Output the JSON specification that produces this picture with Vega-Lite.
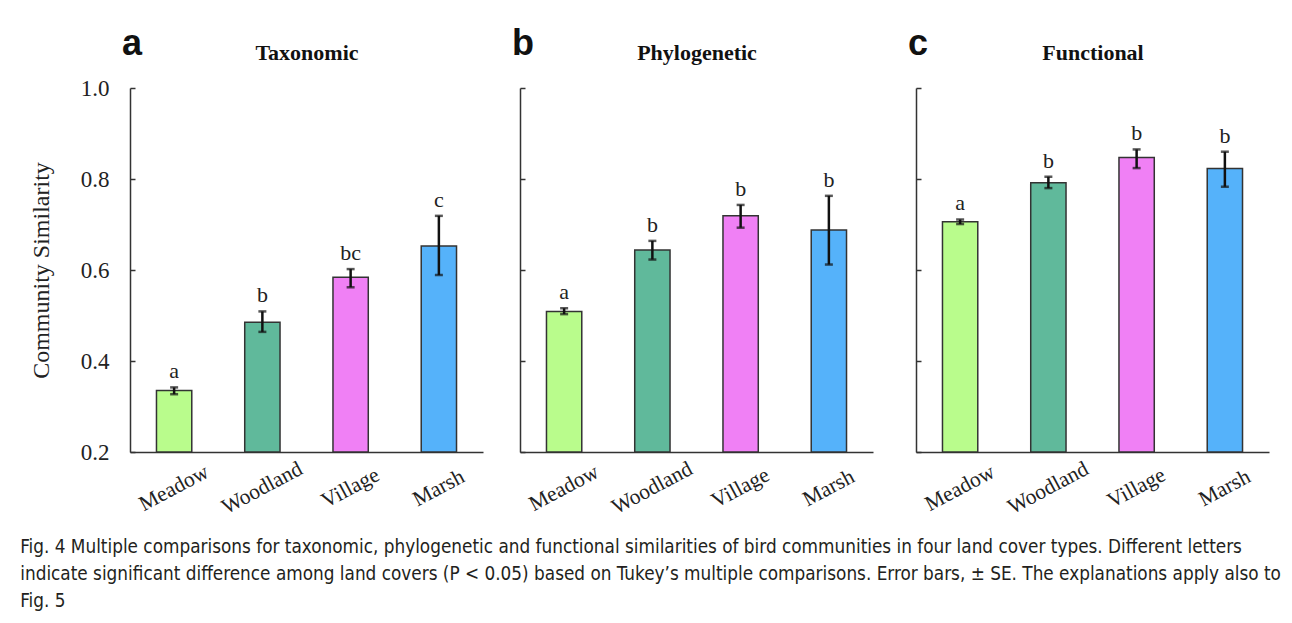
{
  "$schema": "https://vega.github.io/schema/vega-lite/v6.json",
  "padding": {"left": 20, "top": 26, "right": 5, "bottom": 5},
  "background": "white",
  "data": {"values": [
    {"panel": "a", "cover": "Meadow", "mean": 0.335, "lo": 0.327, "hi": 0.342, "letter": "a"},
    {"panel": "a", "cover": "Woodland", "mean": 0.485, "lo": 0.464, "hi": 0.509, "letter": "b"},
    {"panel": "a", "cover": "Village", "mean": 0.584, "lo": 0.562, "hi": 0.602, "letter": "bc"},
    {"panel": "a", "cover": "Marsh", "mean": 0.653, "lo": 0.589, "hi": 0.719, "letter": "c"},
    {"panel": "b", "cover": "Meadow", "mean": 0.509, "lo": 0.503, "hi": 0.516, "letter": "a"},
    {"panel": "b", "cover": "Woodland", "mean": 0.644, "lo": 0.623, "hi": 0.664, "letter": "b"},
    {"panel": "b", "cover": "Village", "mean": 0.719, "lo": 0.693, "hi": 0.743, "letter": "b"},
    {"panel": "b", "cover": "Marsh", "mean": 0.688, "lo": 0.612, "hi": 0.763, "letter": "b"},
    {"panel": "c", "cover": "Meadow", "mean": 0.706, "lo": 0.701, "hi": 0.711, "letter": "a"},
    {"panel": "c", "cover": "Woodland", "mean": 0.792, "lo": 0.780, "hi": 0.805, "letter": "b"},
    {"panel": "c", "cover": "Village", "mean": 0.847, "lo": 0.824, "hi": 0.865, "letter": "b"},
    {"panel": "c", "cover": "Marsh", "mean": 0.823, "lo": 0.783, "hi": 0.860, "letter": "b"}
  ]},
  "title": {
    "text": [
      "Fig. 4  Multiple comparisons for taxonomic, phylogenetic and functional similarities of bird communities in four land cover types. Different letters",
      "indicate significant difference among land covers (P < 0.05) based on Tukey’s multiple comparisons. Error bars, ± SE. The explanations apply also to",
      "Fig. 5"
    ],
    "orient": "bottom", "anchor": "start", "font": "Liberation Sans Narrow, DejaVu Sans Condensed, sans-serif",
    "fontSize": 18.8, "fontWeight": "normal", "lineHeight": 27, "color": "#231f20", "offset": 20, "dx": -9
  },
  "spacing": 29,
  "hconcat": [
    {
      "width": 353, "height": 364,
      "title": {"text": "a", "anchor": "start", "frame": "group", "font": "Liberation Sans", "fontSize": 36, "fontWeight": "bold", "color": "#111", "dx": -8, "offset": -50, "baseline": "alphabetic"},
      "transform": [{"filter": "datum.panel === 'a'"}],
      "layer": [
        {"mark": {"type": "bar", "stroke": "#333", "strokeWidth": 1.5},
         "encoding": {
           "x": {"field": "cover", "type": "nominal", "sort": ["Meadow", "Woodland", "Village", "Marsh"], "scale": {"paddingInner": 0.6, "paddingOuter": 0.3},
                 "axis": {"title": null, "labelAngle": -28, "labelAlign": "center", "labelBaseline": "middle", "labelPadding": 42, "tickSize": -6, "labelFontSize": 21.5}},
           "y": {"field": "mean", "type": "quantitative", "scale": {"domain": [0.2, 1.0]},
                 "axis": {"title": "Community Similarity", "values": [0.2, 0.4, 0.6, 0.8, 1.0], "format": ".1f", "tickSize": -5, "labelPadding": 26, "titlePadding": 27, "titleFontSize": 24, "labelFontSize": 23}},
           "y2": {"datum": 0.2},
           "color": {"field": "cover", "type": "nominal", "scale": {"domain": ["Meadow", "Woodland", "Village", "Marsh"], "range": ["#b9fc8c", "#60b99b", "#f080f5", "#55b2fa"]}, "legend": null}
         }},
        {"mark": {"type": "rule", "strokeWidth": 2.5, "color": "#111"},
         "encoding": {"x": {"field": "cover", "type": "nominal", "sort": ["Meadow", "Woodland", "Village", "Marsh"], "axis": null},
                      "y": {"field": "lo", "type": "quantitative", "axis": {"title": "Community Similarity", "values": [0.2, 0.4, 0.6, 0.8, 1.0], "format": ".1f", "tickSize": -5, "labelPadding": 26, "titlePadding": 27, "titleFontSize": 24, "labelFontSize": 23}}, "y2": {"field": "hi"}}},
        {"mark": {"type": "tick", "size": 8, "thickness": 2.5, "color": "#111"},
         "encoding": {"x": {"field": "cover", "type": "nominal", "sort": ["Meadow", "Woodland", "Village", "Marsh"], "axis": null},
                      "y": {"field": "lo", "type": "quantitative", "axis": {"title": "Community Similarity", "values": [0.2, 0.4, 0.6, 0.8, 1.0], "format": ".1f", "tickSize": -5, "labelPadding": 26, "titlePadding": 27, "titleFontSize": 24, "labelFontSize": 23}}}},
        {"mark": {"type": "tick", "size": 8, "thickness": 2.5, "color": "#111"},
         "encoding": {"x": {"field": "cover", "type": "nominal", "sort": ["Meadow", "Woodland", "Village", "Marsh"], "axis": null},
                      "y": {"field": "hi", "type": "quantitative", "axis": {"title": "Community Similarity", "values": [0.2, 0.4, 0.6, 0.8, 1.0], "format": ".1f", "tickSize": -5, "labelPadding": 26, "titlePadding": 27, "titleFontSize": 24, "labelFontSize": 23}}}},
        {"mark": {"type": "text", "font": "Liberation Serif", "fontSize": 22, "color": "#222", "baseline": "alphabetic", "dy": -9},
         "encoding": {"x": {"field": "cover", "type": "nominal", "sort": ["Meadow", "Woodland", "Village", "Marsh"],
                            "axis": {"orient": "top", "title": "Taxonomic", "labels": false, "ticks": false, "domain": false, "titleFontWeight": "bold", "titleFontSize": 22, "titlePadding": 24, "titleColor": "#111"}},
                      "y": {"field": "hi", "type": "quantitative", "axis": {"title": "Community Similarity", "values": [0.2, 0.4, 0.6, 0.8, 1.0], "format": ".1f", "tickSize": -5, "labelPadding": 26, "titlePadding": 27, "titleFontSize": 24, "labelFontSize": 23}}, "text": {"field": "letter"}}}
      ],
      "resolve": {"axis": {"x": "independent"}}
    },
    {
      "width": 353, "height": 364,
      "title": {"text": "b", "anchor": "start", "frame": "group", "font": "Liberation Sans", "fontSize": 36, "fontWeight": "bold", "color": "#111", "dx": -8, "offset": -50, "baseline": "alphabetic"},
      "transform": [{"filter": "datum.panel === 'b'"}],
      "layer": [
        {"mark": {"type": "bar", "stroke": "#333", "strokeWidth": 1.5},
         "encoding": {
           "x": {"field": "cover", "type": "nominal", "sort": ["Meadow", "Woodland", "Village", "Marsh"], "scale": {"paddingInner": 0.6, "paddingOuter": 0.3},
                 "axis": {"title": null, "labelAngle": -28, "labelAlign": "center", "labelBaseline": "middle", "labelPadding": 42, "tickSize": -6, "labelFontSize": 21.5}},
           "y": {"field": "mean", "type": "quantitative", "scale": {"domain": [0.2, 1.0]},
                 "axis": {"title": null, "values": [0.2, 0.4, 0.6, 0.8, 1.0], "labels": false, "tickSize": -5}},
           "y2": {"datum": 0.2},
           "color": {"field": "cover", "type": "nominal", "scale": {"domain": ["Meadow", "Woodland", "Village", "Marsh"], "range": ["#b9fc8c", "#60b99b", "#f080f5", "#55b2fa"]}, "legend": null}
         }},
        {"mark": {"type": "rule", "strokeWidth": 2.5, "color": "#111"},
         "encoding": {"x": {"field": "cover", "type": "nominal", "sort": ["Meadow", "Woodland", "Village", "Marsh"], "axis": null},
                      "y": {"field": "lo", "type": "quantitative", "axis": {"title": null, "values": [0.2, 0.4, 0.6, 0.8, 1.0], "labels": false, "tickSize": -5}}, "y2": {"field": "hi"}}},
        {"mark": {"type": "tick", "size": 8, "thickness": 2.5, "color": "#111"},
         "encoding": {"x": {"field": "cover", "type": "nominal", "sort": ["Meadow", "Woodland", "Village", "Marsh"], "axis": null},
                      "y": {"field": "lo", "type": "quantitative", "axis": {"title": null, "values": [0.2, 0.4, 0.6, 0.8, 1.0], "labels": false, "tickSize": -5}}}},
        {"mark": {"type": "tick", "size": 8, "thickness": 2.5, "color": "#111"},
         "encoding": {"x": {"field": "cover", "type": "nominal", "sort": ["Meadow", "Woodland", "Village", "Marsh"], "axis": null},
                      "y": {"field": "hi", "type": "quantitative", "axis": {"title": null, "values": [0.2, 0.4, 0.6, 0.8, 1.0], "labels": false, "tickSize": -5}}}},
        {"mark": {"type": "text", "font": "Liberation Serif", "fontSize": 22, "color": "#222", "baseline": "alphabetic", "dy": -9},
         "encoding": {"x": {"field": "cover", "type": "nominal", "sort": ["Meadow", "Woodland", "Village", "Marsh"],
                            "axis": {"orient": "top", "title": "Phylogenetic", "labels": false, "ticks": false, "domain": false, "titleFontWeight": "bold", "titleFontSize": 22, "titlePadding": 24, "titleColor": "#111"}},
                      "y": {"field": "hi", "type": "quantitative", "axis": {"title": null, "values": [0.2, 0.4, 0.6, 0.8, 1.0], "labels": false, "tickSize": -5}}, "text": {"field": "letter"}}}
      ],
      "resolve": {"axis": {"x": "independent"}}
    },
    {
      "width": 353, "height": 364,
      "title": {"text": "c", "anchor": "start", "frame": "group", "font": "Liberation Sans", "fontSize": 36, "fontWeight": "bold", "color": "#111", "dx": -8, "offset": -50, "baseline": "alphabetic"},
      "transform": [{"filter": "datum.panel === 'c'"}],
      "layer": [
        {"mark": {"type": "bar", "stroke": "#333", "strokeWidth": 1.5},
         "encoding": {
           "x": {"field": "cover", "type": "nominal", "sort": ["Meadow", "Woodland", "Village", "Marsh"], "scale": {"paddingInner": 0.6, "paddingOuter": 0.3},
                 "axis": {"title": null, "labelAngle": -28, "labelAlign": "center", "labelBaseline": "middle", "labelPadding": 42, "tickSize": -6, "labelFontSize": 21.5}},
           "y": {"field": "mean", "type": "quantitative", "scale": {"domain": [0.2, 1.0]},
                 "axis": {"title": null, "values": [0.2, 0.4, 0.6, 0.8, 1.0], "labels": false, "tickSize": -5, "minExtent": 14}},
           "y2": {"datum": 0.2},
           "color": {"field": "cover", "type": "nominal", "scale": {"domain": ["Meadow", "Woodland", "Village", "Marsh"], "range": ["#b9fc8c", "#60b99b", "#f080f5", "#55b2fa"]}, "legend": null}
         }},
        {"mark": {"type": "rule", "strokeWidth": 2.5, "color": "#111"},
         "encoding": {"x": {"field": "cover", "type": "nominal", "sort": ["Meadow", "Woodland", "Village", "Marsh"], "axis": null},
                      "y": {"field": "lo", "type": "quantitative", "axis": {"title": null, "values": [0.2, 0.4, 0.6, 0.8, 1.0], "labels": false, "tickSize": -5, "minExtent": 14}}, "y2": {"field": "hi"}}},
        {"mark": {"type": "tick", "size": 8, "thickness": 2.5, "color": "#111"},
         "encoding": {"x": {"field": "cover", "type": "nominal", "sort": ["Meadow", "Woodland", "Village", "Marsh"], "axis": null},
                      "y": {"field": "lo", "type": "quantitative", "axis": {"title": null, "values": [0.2, 0.4, 0.6, 0.8, 1.0], "labels": false, "tickSize": -5, "minExtent": 14}}}},
        {"mark": {"type": "tick", "size": 8, "thickness": 2.5, "color": "#111"},
         "encoding": {"x": {"field": "cover", "type": "nominal", "sort": ["Meadow", "Woodland", "Village", "Marsh"], "axis": null},
                      "y": {"field": "hi", "type": "quantitative", "axis": {"title": null, "values": [0.2, 0.4, 0.6, 0.8, 1.0], "labels": false, "tickSize": -5, "minExtent": 14}}}},
        {"mark": {"type": "text", "font": "Liberation Serif", "fontSize": 22, "color": "#222", "baseline": "alphabetic", "dy": -9},
         "encoding": {"x": {"field": "cover", "type": "nominal", "sort": ["Meadow", "Woodland", "Village", "Marsh"],
                            "axis": {"orient": "top", "title": "Functional", "labels": false, "ticks": false, "domain": false, "titleFontWeight": "bold", "titleFontSize": 22, "titlePadding": 24, "titleColor": "#111"}},
                      "y": {"field": "hi", "type": "quantitative", "axis": {"title": null, "values": [0.2, 0.4, 0.6, 0.8, 1.0], "labels": false, "tickSize": -5, "minExtent": 14}}, "text": {"field": "letter"}}}
      ],
      "resolve": {"axis": {"x": "independent"}}
    }
  ],
  "config": {
    "view": {"stroke": null},
    "axis": {"grid": false, "domainColor": "#333", "domainWidth": 1.5, "tickColor": "#333", "tickWidth": 1.5,
             "labelFont": "Liberation Serif", "labelColor": "#222", "titleFont": "Liberation Serif", "titleFontWeight": "normal", "titleColor": "#222"}
  }
}
